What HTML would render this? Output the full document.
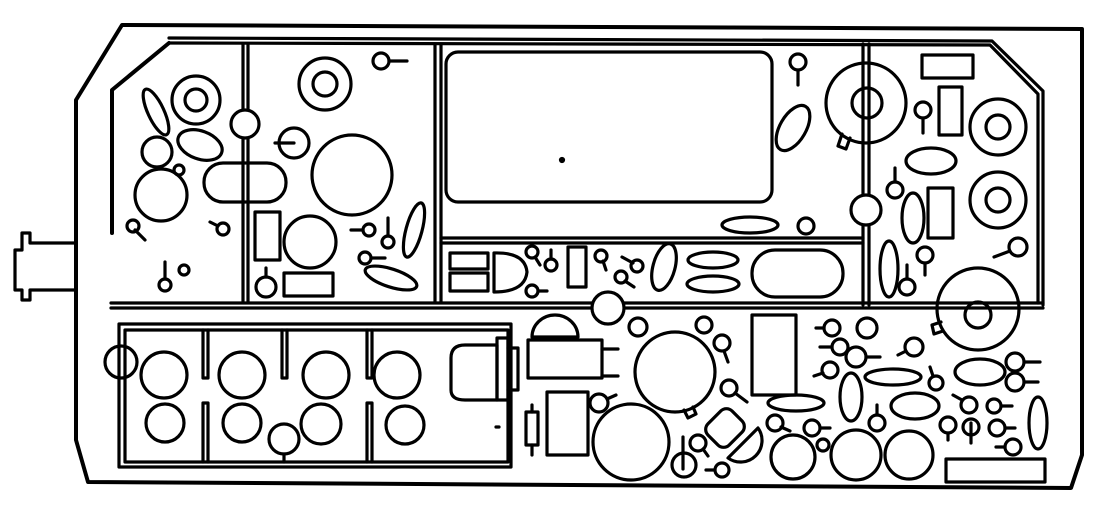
<!DOCTYPE html>
<html><head><meta charset="utf-8"><style>html,body{margin:0;padding:0;background:#fff}svg{display:block}</style></head>
<body>
<svg width="1106" height="520" viewBox="0 0 1106 520" xmlns="http://www.w3.org/2000/svg" fill="none" stroke="#000" stroke-width="3.2" stroke-linecap="round" stroke-linejoin="round">
<path d="M122 25 L1082 29 L1082 455 L1071 488 L88 482 L76 440 L76 100 Z" stroke-width="4"/>
<path d="M76 243 L30 243 L30 233 L22 233 L22 250 L15 250 L15 290 L22 290 L22 300 L30 300 L30 290 L76 290"/>
<path d="M169 38 L992 41 L1043 91 L1043 305"/>
<path d="M169 43 L990 45 L1038 94 L1038 303"/>
<path d="M169 43 L112 90 L112 233" stroke-width="4"/>
<path d="M243 44 V302 M248 44 V302" />
<path d="M435 44 V302 M441 44 V302" />
<path d="M863 44 V305 M869 44 V305" />
<path d="M111 303 H1043 M111 308 H1043" />
<path d="M441 238 H863 M441 243 H863" />
<ellipse cx="156" cy="112" rx="8" ry="25" transform="rotate(-25 156 112)"/>
<circle cx="196" cy="100" r="24"/><circle cx="196" cy="100" r="11"/>
<circle cx="245" cy="124" r="14" fill="#fff"/>
<ellipse cx="200" cy="145" rx="23" ry="14" transform="rotate(20 200 145)"/>
<circle cx="157" cy="152" r="15"/><circle cx="179" cy="170" r="5"/>
<circle cx="161" cy="195" r="26"/>
<rect x="204" y="163" width="82" height="39" rx="19"/>
<circle cx="133" cy="226" r="6"/><path d="M135 230 L145 240"/>
<circle cx="223" cy="229" r="6"/><path d="M218 226 L210 222"/>
<circle cx="165" cy="285" r="6"/><path d="M165 279 V262"/>
<circle cx="184" cy="270" r="5"/>
<circle cx="325" cy="84" r="26"/><circle cx="325" cy="84" r="12"/>
<circle cx="381" cy="61" r="8"/><path d="M389 61 H407"/>
<circle cx="294" cy="143" r="15"/><path d="M294 143 H275"/>
<circle cx="352" cy="175" r="40"/>
<rect x="255" y="212" width="25" height="48"/>
<circle cx="310" cy="242" r="26"/>
<ellipse cx="414" cy="230" rx="8" ry="28" transform="rotate(15 414 230)"/>
<circle cx="369" cy="230" r="6"/><path d="M363 230 H351"/>
<circle cx="388" cy="242" r="6"/><path d="M388 236 V218"/>
<circle cx="365" cy="258" r="6"/><path d="M371 258 H385"/>
<ellipse cx="391" cy="278" rx="27" ry="9" transform="rotate(18 391 278)"/>
<circle cx="266" cy="287" r="10"/><path d="M266 277 V268"/>
<rect x="284" y="273" width="49" height="23"/>
<rect x="446" y="52" width="326" height="150" rx="12"/>
<circle cx="562" cy="160" r="1.5" fill="#000"/>
<circle cx="798" cy="62" r="8"/><path d="M798 70 V85"/>
<ellipse cx="793" cy="128" rx="13" ry="25" transform="rotate(30 793 128)"/>
<circle cx="866" cy="103" r="40"/><circle cx="867" cy="103" r="15"/>
<path d="M842 134 L838 146 L846 149 L850 138"/>
<circle cx="866" cy="210" r="15" fill="#fff"/>
<ellipse cx="750" cy="225" rx="28" ry="8"/><circle cx="806" cy="226" r="8"/>
<rect x="450" y="253" width="38" height="16"/><rect x="450" y="273" width="38" height="18"/>
<path d="M494 253 Q525 252 527 272 Q525 292 494 292 Z"/>
<circle cx="532" cy="252" r="6"/><path d="M535 257 L540 265"/>
<circle cx="551" cy="265" r="6"/><path d="M551 259 V250"/>
<circle cx="532" cy="291" r="6"/><path d="M538 291 H547"/>
<rect x="568" y="247" width="18" height="40"/>
<circle cx="601" cy="256" r="6"/><path d="M603 261 L606 270"/>
<circle cx="637" cy="266" r="6"/><path d="M633 263 L622 257"/>
<circle cx="621" cy="277" r="6"/><path d="M625 281 L634 287"/>
<ellipse cx="664" cy="267" rx="11" ry="24" transform="rotate(15 664 267)"/>
<ellipse cx="713" cy="260" rx="25" ry="8"/><ellipse cx="713" cy="284" rx="26" ry="8"/>
<rect x="752" y="250" width="91" height="47" rx="23"/>
<rect x="922" y="55" width="51" height="23"/>
<rect x="939" y="87" width="23" height="48"/>
<circle cx="923" cy="110" r="8"/><path d="M923 118 V133"/>
<circle cx="998" cy="127" r="28"/><circle cx="998" cy="127" r="12"/>
<ellipse cx="931" cy="161" rx="25" ry="13"/>
<circle cx="998" cy="200" r="28"/><circle cx="998" cy="200" r="12"/>
<circle cx="895" cy="190" r="8"/><path d="M895 182 V168"/>
<ellipse cx="913" cy="218" rx="11" ry="25"/>
<rect x="928" y="188" width="25" height="50"/>
<circle cx="1018" cy="247" r="9"/><path d="M1010 251 L994 257"/>
<ellipse cx="889" cy="269" rx="9" ry="28"/>
<circle cx="925" cy="255" r="8"/><path d="M925 263 V275"/>
<circle cx="907" cy="287" r="8"/><path d="M907 279 V265"/>
<circle cx="978" cy="309" r="41"/><circle cx="978" cy="315" r="13"/>
<path d="M941 322 L932 325 L934 334 L943 331"/>
<rect x="119" y="324" width="392" height="143"/>
<rect x="125" y="330" width="383" height="132"/>
<path d="M203 330 V378 H208 V330 M282 330 V378 H287 V330 M367 330 V378 H372 V330"/>
<path d="M203 462 V403 H208 V462 M367 462 V403 H372 V462"/>
<circle cx="121" cy="362" r="16"/>
<circle cx="164" cy="375" r="23"/><circle cx="242" cy="375" r="23"/><circle cx="326" cy="375" r="23"/><circle cx="397" cy="375" r="23"/>
<circle cx="165" cy="423" r="19"/><circle cx="242" cy="423" r="19"/><circle cx="321" cy="424" r="20"/><circle cx="405" cy="425" r="19"/>
<circle cx="284" cy="439" r="15"/><path d="M284 454 V462"/>
<path d="M497 345 H465 Q451 345 451 358 V390 Q451 400 465 400 H497 Z"/>
<rect x="497" y="338" width="11" height="62"/><path d="M508 348 H518 V390 H508"/>
<path d="M496 427 H499"/>
<path d="M532 337 A23 22 0 0 1 578 337 Z"/>
<circle cx="608" cy="308" r="16" fill="#fff"/>
<rect x="528" y="340" width="74" height="38"/><path d="M602 349 H618 M602 376 H618"/>
<rect x="547" y="392" width="41" height="63"/>
<rect x="526" y="412" width="12" height="33"/><path d="M532 405 V412 M532 445 V455"/>
<circle cx="638" cy="327" r="9"/><circle cx="704" cy="325" r="8"/>
<circle cx="675" cy="372" r="40"/>
<path d="M684 410 L688 418 L696 414 L693 407"/>
<circle cx="722" cy="343" r="8"/><path d="M724 351 L728 362"/>
<circle cx="729" cy="388" r="8"/><path d="M735 393 L747 402"/>
<rect x="752" y="315" width="44" height="80"/>
<ellipse cx="796" cy="403" rx="28" ry="8"/>
<circle cx="599" cy="403" r="9"/><path d="M607 399 L616 395"/>
<circle cx="631" cy="442" r="38"/>
<circle cx="684" cy="465" r="12"/><path d="M683 469 V437"/>
<circle cx="698" cy="443" r="8"/><path d="M703 449 L708 456"/>
<rect x="710" y="411" width="30" height="34" rx="8" transform="rotate(45 725 428)"/>
<path d="M728 458 L758 428 A21.5 21.5 0 0 1 728 458 Z"/>
<circle cx="722" cy="470" r="7"/><path d="M715 470 H706"/>
<circle cx="775" cy="423" r="8"/><path d="M781 427 L790 431"/>
<circle cx="812" cy="428" r="8"/><path d="M820 428 H830"/>
<circle cx="823" cy="445" r="6"/>
<circle cx="793" cy="457" r="22"/><circle cx="856" cy="455" r="25"/><circle cx="909" cy="455" r="24"/>
<circle cx="832" cy="328" r="8"/><path d="M824 328 H816"/>
<circle cx="867" cy="328" r="10"/>
<circle cx="840" cy="347" r="8"/><path d="M832 347 H820"/>
<circle cx="856" cy="357" r="10"/><path d="M866 357 H880"/>
<circle cx="830" cy="370" r="8"/><path d="M823 373 L814 376"/>
<ellipse cx="851" cy="397" rx="11" ry="24"/>
<ellipse cx="893" cy="377" rx="28" ry="8"/>
<circle cx="936" cy="383" r="7"/><path d="M933 376 L930 367"/>
<circle cx="914" cy="347" r="9"/><path d="M906 351 L898 355"/>
<ellipse cx="980" cy="372" rx="25" ry="13"/>
<ellipse cx="915" cy="406" rx="24" ry="13"/>
<circle cx="877" cy="423" r="8"/><path d="M877 415 V405"/>
<circle cx="1015" cy="362" r="9"/><path d="M1024 362 H1040"/>
<circle cx="1015" cy="382" r="9"/><path d="M1024 382 H1038"/>
<circle cx="969" cy="405" r="8"/><path d="M962 400 L953 395"/>
<circle cx="994" cy="406" r="7"/><path d="M1001 406 H1012"/>
<circle cx="948" cy="425" r="8"/><path d="M948 433 V440"/>
<circle cx="971" cy="427" r="8"/><path d="M971 423 V443"/>
<circle cx="997" cy="428" r="8"/><path d="M1005 428 H1015"/>
<ellipse cx="1038" cy="423" rx="9" ry="26"/>
<circle cx="1013" cy="447" r="8"/><path d="M1005 447 H996"/>
<rect x="946" y="459" width="99" height="23"/>
</svg>
</body></html>
